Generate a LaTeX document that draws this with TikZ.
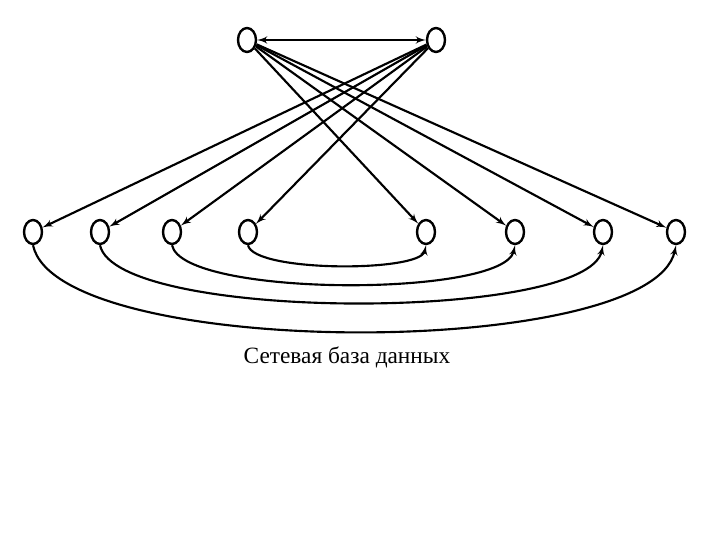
\documentclass[tikz,border=0pt]{standalone}
\usepackage{fontspec}
\setmainfont{Liberation Serif}
\usetikzlibrary{arrows,shapes.geometric}

\begin{document}
\begin{tikzpicture}[x=0.75pt,y=0.75pt,every node/.style={ellipse,draw,line width=1.8pt,inner sep=0pt,minimum width=13.5pt,minimum height=18pt}, >=latex',line width=1.6pt]
				\useasboundingbox (0,0) rectangle (720,540);
				\node (up1) at (247,500) {};
				\node (up2) at (436,500) {};
				\foreach \x [count=\i] in {33,100,172,248,426,515,603,676}
					\node (low\i) at (\x,308) {};
				\draw [<->] (up1) to (up2);
				\foreach \i in {5,...,8} \draw [->] (up1) to (low\i);
				\foreach \i in {1,...,4} \draw [->] (up2) to (low\i);
				\draw [->] (low4.south) to[out=-78,in=-102,looseness=.4] (low5.south);
				\draw [->] (low3.south) to[out=-78,in=-102,looseness=.4] (low6.south);
				\draw [->] (low2.south) to[out=-78,in=-102,looseness=.4] (low7.south);
				\draw [->] (low1.south) to[out=-78,in=-102,looseness=.47] (low8.south);
				\node (title) [draw=none,shape=rectangle,anchor=base,font=\fontsize{17.5}{20}\selectfont] at (347,177) {Сетевая база данных};
			\end{tikzpicture}
\end{document}
